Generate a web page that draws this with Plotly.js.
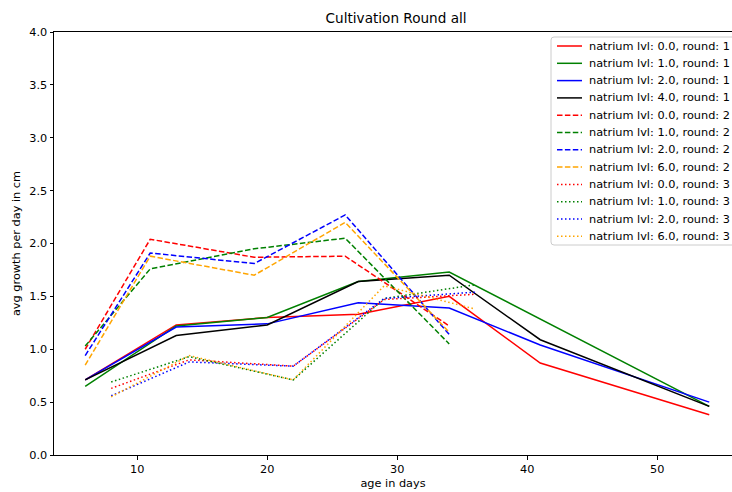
<!DOCTYPE html>
<html>
<head>
<meta charset="utf-8">
<script src="https://cdn.plot.ly/plotly-3.0.1.min.js"></script>
<style>
  html, body { margin: 0; padding: 0; background: #fff; }
  #chart { width: 732px; height: 492px; }
</style>
</head>
<body>
<div id="chart"></div>
<script>
// Age (days) at each measurement, per cultivation round
const daysRound1 = [6, 13, 20, 27, 34, 41, 54];
const daysRound1Lvl1 = [6, 13, 20, 27, 34, 54];
const daysRound2 = [6, 11, 19, 26, 34];
const daysRound3 = [8, 14, 22, 29, 36];

// Average growth per day (cm), round 1
const r1Lvl0 = [0.71, 1.23, 1.30, 1.33, 1.50, 0.87, 0.38];
const r1Lvl1 = [0.65, 1.22, 1.30, 1.64, 1.73, 0.46];
const r1Lvl2 = [0.71, 1.21, 1.24, 1.44, 1.39, 1.04, 0.50];
const r1Lvl4 = [0.71, 1.13, 1.23, 1.64, 1.70, 1.09, 0.46];

// Round 2
const r2Lvl0 = [1.00, 2.04, 1.87, 1.88, 1.22];
const r2Lvl1 = [1.03, 1.76, 1.95, 2.05, 1.05];
const r2Lvl2 = [0.94, 1.91, 1.81, 2.27, 1.14];
const r2Lvl6 = [0.85, 1.88, 1.70, 2.20, 1.16];

// Round 3
const r3Lvl0 = [0.63, 0.90, 0.84, 1.47, 1.52];
const r3Lvl1 = [0.69, 0.93, 0.71, 1.48, 1.61];
const r3Lvl2 = [0.56, 0.88, 0.84, 1.48, 1.54];
const r3Lvl6 = [0.55, 0.94, 0.71, 1.60, 1.38];

const yTicks = [0, 0.5, 1, 1.5, 2, 2.5, 3, 3.5, 4];
const yTickText = ['0.0', '0.5', '1.0', '1.5', '2.0', '2.5', '3.0', '3.5', '4.0'];
const xTicks = [10, 20, 30, 40, 50];

const RED = '#ff0000', GREEN = '#008000', BLUE = '#0000ff', BLACK = '#000000', ORANGE = '#ffa500';
const SOLID = 'solid';
const DASHED = '5.5px,2.4px';
const DOTTED = '1.5px,2.5px';

function series(x, y, lvl, round, color, dash) {
  return {
    x: x, y: y,
    type: 'scatter', mode: 'lines',
    name: 'natrium lvl: ' + lvl + ', round: ' + round,
    line: { color: color, width: 1.5, dash: dash },
    showlegend: false
  };
}

const traces = [
  series(daysRound1, r1Lvl0, '0.0', 1, RED, SOLID),
  series(daysRound1Lvl1, r1Lvl1, '1.0', 1, GREEN, SOLID),
  series(daysRound1, r1Lvl2, '2.0', 1, BLUE, SOLID),
  series(daysRound1, r1Lvl4, '4.0', 1, BLACK, SOLID),
  series(daysRound2, r2Lvl0, '0.0', 2, RED, DASHED),
  series(daysRound2, r2Lvl1, '1.0', 2, GREEN, DASHED),
  series(daysRound2, r2Lvl2, '2.0', 2, BLUE, DASHED),
  series(daysRound2, r2Lvl6, '6.0', 2, ORANGE, DASHED),
  series(daysRound3, r3Lvl0, '0.0', 3, RED, DOTTED),
  series(daysRound3, r3Lvl1, '1.0', 3, GREEN, DOTTED),
  series(daysRound3, r3Lvl2, '2.0', 3, BLUE, DOTTED),
  series(daysRound3, r3Lvl6, '6.0', 3, ORANGE, DOTTED)
];

// Plot area geometry in pixels, used to place the compact legend
const W = 732, H = 492;
const M = { l: 54, r: 0, t: 32, b: 37 };
const plotW = W - M.l - M.r, plotH = H - M.t - M.b;
const px = v => (v - M.l) / plotW;
const py = v => (H - M.b - v) / plotH;

const FAMILY = 'DejaVu Sans, sans-serif';
const font = { family: FAMILY, size: 11.3, color: '#000' };

// Legend: rounded frame with a line sample and label per series
const box = { left: 551, top: 37, right: 745, bottom: 245, r: 3 };
function roundedRect(b) {
  const X = px, Y = py;
  return 'M' + X(b.left + b.r) + ',' + Y(b.top) +
    ' L' + X(b.right - b.r) + ',' + Y(b.top) +
    ' Q' + X(b.right) + ',' + Y(b.top) + ' ' + X(b.right) + ',' + Y(b.top + b.r) +
    ' L' + X(b.right) + ',' + Y(b.bottom - b.r) +
    ' Q' + X(b.right) + ',' + Y(b.bottom) + ' ' + X(b.right - b.r) + ',' + Y(b.bottom) +
    ' L' + X(b.left + b.r) + ',' + Y(b.bottom) +
    ' Q' + X(b.left) + ',' + Y(b.bottom) + ' ' + X(b.left) + ',' + Y(b.bottom - b.r) +
    ' L' + X(b.left) + ',' + Y(b.top + b.r) +
    ' Q' + X(b.left) + ',' + Y(b.top) + ' ' + X(b.left + b.r) + ',' + Y(b.top) + ' Z';
}
const rowTop = 46, rowStep = 17.3;
const shapes = [{
  type: 'path', xref: 'paper', yref: 'paper', layer: 'above',
  path: roundedRect(box),
  line: { color: '#cccccc', width: 1 },
  fillcolor: 'rgba(255,255,255,0.8)'
}];
const annotations = [];
traces.forEach((t, i) => {
  const yy = py(rowTop + i * rowStep);
  shapes.push({
    type: 'line', xref: 'paper', yref: 'paper', layer: 'above',
    x0: px(557), x1: px(582), y0: yy, y1: yy,
    line: { color: t.line.color, width: 1.5, dash: t.line.dash }
  });
  annotations.push({
    xref: 'paper', yref: 'paper', x: px(587), y: yy,
    xanchor: 'left', yanchor: 'middle', showarrow: false,
    text: t.name, font: font
  });
});

const layout = {
  width: W, height: H,
  margin: { l: M.l, r: M.r, t: M.t, b: M.b, pad: 0 },
  paper_bgcolor: '#fff', plot_bgcolor: '#fff',
  font: font,
  showlegend: false,
  title: {
    text: 'Cultivation Round all',
    font: { family: FAMILY, size: 13.6, color: '#000' },
    x: 0.5411, xanchor: 'center', y: 0.962, yanchor: 'middle'
  },
  xaxis: {
    range: [3.6, 55.75],
    tickvals: xTicks,
    ticks: 'outside', ticklen: 3.5, tickwidth: 1, tickcolor: '#000',
    showline: true, linecolor: '#000', linewidth: 1, mirror: true,
    showgrid: false, zeroline: false,
    tickfont: font,
    title: { text: 'age in days', font: font, standoff: 4 }
  },
  yaxis: {
    range: [0, 4],
    tickvals: yTicks, ticktext: yTickText,
    ticks: 'outside', ticklen: 3.5, tickwidth: 1, tickcolor: '#000',
    showline: true, linecolor: '#000', linewidth: 1, mirror: false,
    showgrid: false, zeroline: false,
    tickfont: font,
    title: { text: 'avg growth per day in cm', font: font, standoff: 6 }
  },
  shapes: shapes,
  annotations: annotations
};

Plotly.newPlot('chart', traces, layout, { staticPlot: true, displayModeBar: false });
</script>
</body>
</html>
